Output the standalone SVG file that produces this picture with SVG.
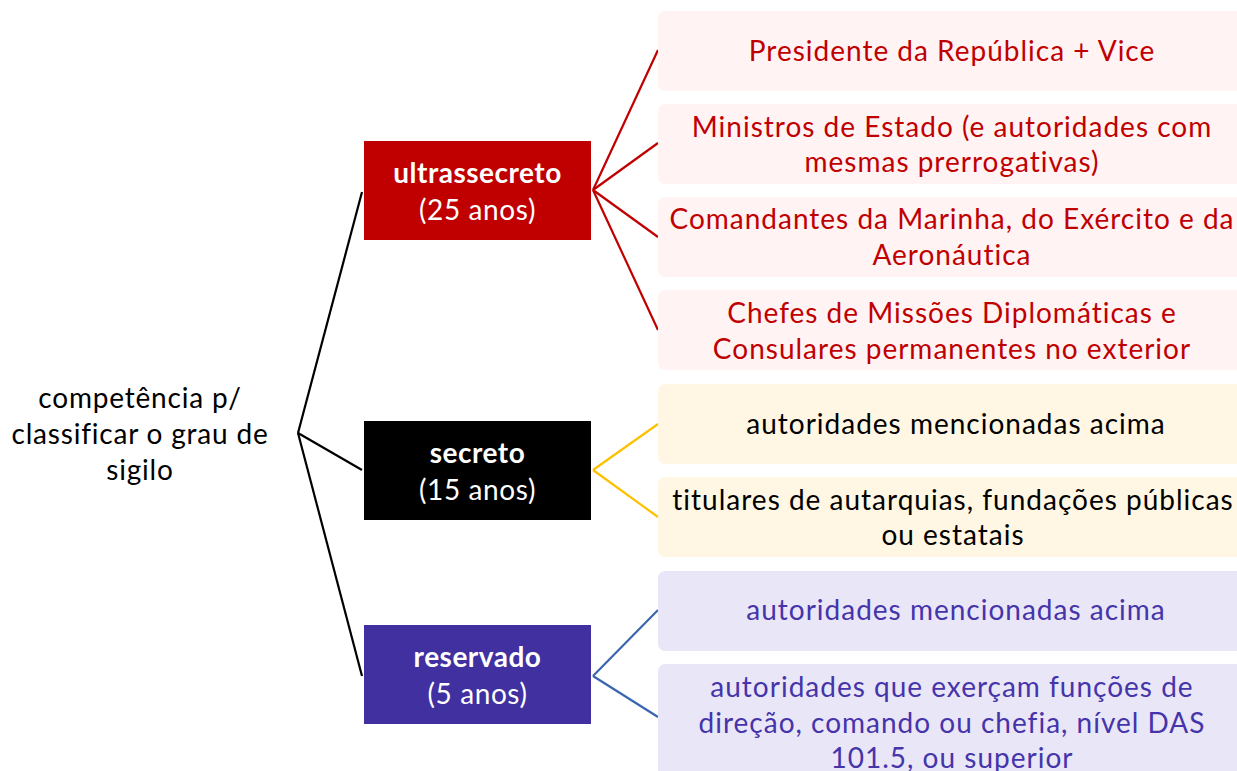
<svg xmlns="http://www.w3.org/2000/svg" width="1237" height="771" viewBox="0 0 1237 771">
<style>
text{font-family:Lato,"Noto Sans",sans-serif;text-anchor:middle}
.t{font-size:28px;letter-spacing:1px}
.r{font-size:28px;letter-spacing:0.8px}
.lab{font-size:28px;fill:#fff;letter-spacing:0.6px}
.b{font-weight:bold;letter-spacing:0.5px}
.red{fill:#FFF3F4}
.yel{fill:#FFF7E3}
.pur{fill:#E9E6F7}
.rt{fill:#C00000}
.kt{fill:#000}
.pt{fill:#4534AA}
.conn line{stroke-width:2.2;fill:none}
</style>
<rect width="1237" height="771" fill="#fff"/>
<g id="connectors" class="conn">
<line x1="298" y1="433" x2="362" y2="192" stroke="#000"/>
<line x1="298" y1="433" x2="362" y2="470" stroke="#000"/>
<line x1="298" y1="433" x2="362" y2="676" stroke="#000"/>
<line x1="593" y1="190" x2="658" y2="50" stroke="#C00000"/>
<line x1="593" y1="190" x2="658" y2="143" stroke="#C00000"/>
<line x1="593" y1="190" x2="658" y2="237" stroke="#C00000"/>
<line x1="593" y1="190" x2="658" y2="330" stroke="#C00000"/>
<line x1="593" y1="470" x2="658" y2="424" stroke="#FFC000"/>
<line x1="593" y1="470" x2="658" y2="517" stroke="#FFC000"/>
<line x1="593" y1="676" x2="658" y2="610" stroke="#3A66B0"/>
<line x1="593" y1="676" x2="658" y2="717" stroke="#3A66B0"/>
</g>
<g id="root">
<text class="r kt" x="140" y="408">competência p/</text>
<text class="r kt" x="140" y="444">classificar o grau de</text>
<text class="r kt" x="140" y="480">sigilo</text>
</g>
<g id="ultrassecreto">
<rect x="364" y="141" width="227" height="99" fill="#C00000"/>
<text class="lab b" x="477.5" y="183">ultrassecreto</text>
<text class="lab" x="477.5" y="220">(25 anos)</text>
</g>
<g id="secreto">
<rect x="364" y="421" width="227" height="99" fill="#000"/>
<text class="lab b" x="477.5" y="463">secreto</text>
<text class="lab" x="477.5" y="500">(15 anos)</text>
</g>
<g id="reservado">
<rect x="364" y="625" width="227" height="99" fill="#4030A0"/>
<text class="lab b" x="477.5" y="667">reservado</text>
<text class="lab" x="477.5" y="704">(5 anos)</text>
</g>
<g id="presidente">
<rect class="red" x="658" y="11" width="590" height="80" rx="7"/>
<text class="t rt" x="952" y="61">Presidente da República + Vice</text>
</g>
<g id="ministros">
<rect class="red" x="658" y="104" width="590" height="80" rx="7"/>
<text class="t rt" x="952" y="137">Ministros de Estado (e autoridades com</text>
<text class="t rt" x="952" y="172">mesmas prerrogativas)</text>
</g>
<g id="comandantes">
<rect class="red" x="658" y="197" width="590" height="80" rx="7"/>
<text class="t rt" x="952" y="229">Comandantes da Marinha, do Exército e da</text>
<text class="t rt" x="952" y="265">Aeronáutica</text>
</g>
<g id="chefes">
<rect class="red" x="658" y="290" width="590" height="80" rx="7"/>
<text class="t rt" x="952" y="323">Chefes de Missões Diplomáticas e</text>
<text class="t rt" x="952" y="359">Consulares permanentes no exterior</text>
</g>
<g id="sec-autoridades">
<rect class="yel" x="658" y="384" width="590" height="80" rx="7"/>
<text class="t kt" x="956" y="434">autoridades mencionadas acima</text>
</g>
<g id="titulares">
<rect class="yel" x="658" y="477" width="590" height="80" rx="7"/>
<text class="t kt" x="953" y="510">titulares de autarquias, fundações públicas</text>
<text class="t kt" x="953" y="545">ou estatais</text>
</g>
<g id="res-autoridades">
<rect class="pur" x="658" y="571" width="590" height="80" rx="7"/>
<text class="t pt" x="956" y="620">autoridades mencionadas acima</text>
</g>
<g id="direcao">
<rect class="pur" x="658" y="664" width="590" height="120" rx="7"/>
<text class="t pt" x="952" y="697">autoridades que exerçam funções de</text>
<text class="t pt" x="952" y="733">direção, comando ou chefia, nível DAS</text>
<text class="t pt" x="952" y="768">101.5, ou superior</text>
</g>
</svg>
